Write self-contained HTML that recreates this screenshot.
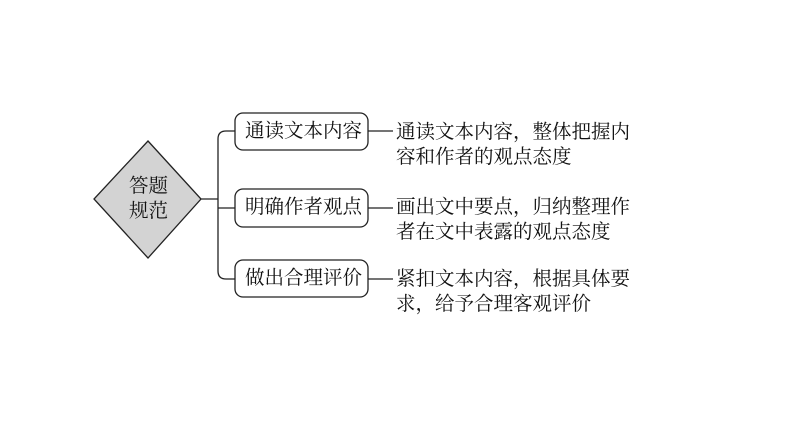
<!DOCTYPE html>
<html><head><meta charset="utf-8"><style>
body{margin:0;background:#fff;}
.w{position:relative;width:794px;height:447px;overflow:hidden;font-family:"Liberation Serif","Noto Serif CJK SC",serif;color:#111;}
.t{position:absolute;font-size:19.5px;line-height:25px;white-space:nowrap;}
</style></head><body><div class="w">
<svg width="794" height="447" style="position:absolute;left:0;top:0">
<polygon points="148,141 201,199 148,258 94,199" fill="#d3d3d3" stroke="#222" stroke-width="1.3"/>
<g fill="none" stroke="#222" stroke-width="1.3">
<line x1="201" y1="199" x2="218" y2="199"/>
<path d="M235,131 H226 Q218,131 218,139 V271 Q218,279 226,279 H235"/>
<line x1="218" y1="208" x2="235" y2="208"/>
<rect x="235" y="113" width="133" height="37" rx="8"/>
<rect x="235" y="189" width="133" height="38" rx="8"/>
<rect x="235" y="260" width="133" height="37" rx="8"/>
<line x1="368" y1="131" x2="393" y2="131"/>
<line x1="368" y1="208" x2="393" y2="208"/>
<line x1="368" y1="279" x2="393" y2="279"/>
</g>
</svg>
<div class="t" style="left:129px;top:174px;">答题<br>规范</div>
<div class="t" style="left:245px;top:119px;">通读文本内容</div>
<div class="t" style="left:245px;top:195px;">明确作者观点</div>
<div class="t" style="left:245px;top:266px;">做出合理评价</div>
<div class="t" style="left:396px;top:120px;">通读文本内容，整体把握内<br>容和作者的观点态度</div>
<div class="t" style="left:396px;top:195px;">画出文中要点，归纳整理作<br>者在文中表露的观点态度</div>
<div class="t" style="left:396px;top:267px;">紧扣文本内容，根据具体要<br>求，给予合理客观评价</div>
</div></body></html>
